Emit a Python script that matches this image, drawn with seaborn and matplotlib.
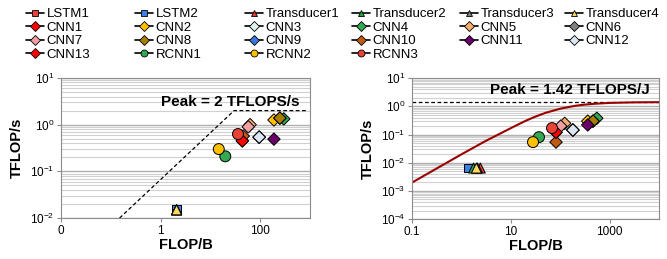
import matplotlib.pyplot as plt
import pandas as pd
import seaborn as sns
from matplotlib.lines import Line2D
from matplotlib.ticker import LogLocator, NullFormatter

# ---- data ----
models = ["LSTM1", "LSTM2", "Transducer1", "Transducer2", "Transducer3", "Transducer4",
          "CNN1", "CNN2", "CNN3", "CNN4", "CNN5", "CNN6",
          "CNN7", "CNN8", "CNN9", "CNN10", "CNN11", "CNN12",
          "CNN13", "RCNN1", "RCNN2", "RCNN3"]
markers = ["s", "s", "^", "^", "^", "^",
           "D", "D", "D", "D", "D", "D",
           "D", "D", "D", "D", "D", "D",
           "D", "o", "o", "o"]
colors = ["#E8423A", "#3C7FE6", "#E53935", "#2EA043", "#7F7F7F", "#FFD966",
          "#FF0000", "#FFC000", "#DDF3F5", "#33A852", "#F8AE6E", "#7F7F7F",
          "#F4A0A0", "#A87E00", "#3C78D8", "#C05A10", "#6B006B", "#DCE6F5",
          "#FF0000", "#34A853", "#FFC000", "#EA4335"]

# left panel: throughput
left_flop_b = [2.1, 2.1, 2.1, 2.1, 2.1, 2.1,
               44, 190, 96, 300, 63, 250,
               58, 250, 96, 46, 190, 96,
               44, 20, 14.8, 36]
left_tflops = [0.015, 0.015, 0.015, 0.015, 0.015, 0.015,
               0.45, 1.26, 0.54, 1.33, 1.0, 1.38,
               0.9, 1.38, 0.54, 0.57, 0.49, 0.54,
               0.45, 0.21, 0.30, 0.63]

# right panel: energy efficiency
right_flop_b = [1.4, 1.4, 2.4, 1.75, 2.1, 2.0,
                82, 360, 180, 550, 123, 460,
                102, 460, 180, 82, 360, 180,
                82, 37, 28, 68]
right_tflopj = [0.0065, 0.0065, 0.0065, 0.0065, 0.0065, 0.0065,
                0.12, 0.30, 0.145, 0.38, 0.25, 0.30,
                0.20, 0.30, 0.145, 0.054, 0.22, 0.145,
                0.12, 0.081, 0.054, 0.17]

# rooflines
left_roof_x = [0.15, 30, 900]
left_roof_y = [0.01, 2, 2]
right_peak_x = [0.1, 10000]
right_peak_y = [1.42, 1.42]
right_curve_x = [0.1, 0.3, 1, 3, 10, 20, 30, 50, 100, 200, 300, 500, 1000, 3000, 10000]
right_curve_y = [0.002, 0.006, 0.02, 0.058, 0.17, 0.31, 0.42, 0.59, 0.83, 1.05, 1.15,
                 1.24, 1.33, 1.39, 1.41]

marker_size = {"s": 40, "^": 52, "D": 40, "o": 62}

# ---- style ----
sns.set_theme(style="white")
plt.rcParams["font.family"] = ["Liberation Sans", "DejaVu Sans"]
plt.rcParams["mathtext.fontset"] = "custom"
plt.rcParams["mathtext.rm"] = "Liberation Sans"
plt.rcParams["mathtext.it"] = "Liberation Sans:italic"
plt.rcParams["mathtext.bf"] = "Liberation Sans:bold"
plt.rcParams["text.color"] = "black"
plt.rcParams["axes.labelcolor"] = "black"
plt.rcParams["xtick.color"] = "black"
plt.rcParams["ytick.color"] = "black"

palette = dict(zip(models, colors))
marker_map = dict(zip(models, markers))
size_map = {m: marker_size[k] for m, k in zip(models, markers)}

fig = plt.figure(figsize=(6.67, 2.59), dpi=100)
ax1 = fig.add_axes([0.0915, 0.158, 0.373, 0.541])
ax2 = fig.add_axes([0.618, 0.154, 0.370, 0.544])


def draw_panel(ax, xs, ys):
    df = pd.DataFrame({"model": models, "flop_b": xs, "perf": ys})
    sns.scatterplot(data=df, x="flop_b", y="perf", hue="model", style="model",
                    size="model", palette=palette, markers=marker_map, sizes=size_map,
                    edgecolor="black", linewidth=0.7, legend=False, ax=ax, zorder=3)
    ax.set_xscale("log")
    ax.set_yscale("log")
    ax.yaxis.set_major_locator(LogLocator(base=10))
    ax.yaxis.set_minor_locator(LogLocator(base=10, subs=range(2, 10)))
    ax.yaxis.set_minor_formatter(NullFormatter())
    ax.xaxis.set_minor_locator(plt.NullLocator())
    ax.grid(False)
    ax.yaxis.grid(True, which="major", color="#b0b0b0", lw=1.0, zorder=0)
    ax.yaxis.grid(True, which="minor", color="#d0d0d0", lw=0.8, zorder=0)
    for sp in ax.spines.values():
        sp.set_visible(True)
        sp.set_color("#8c8c8c")
        sp.set_linewidth(0.8)
    ax.tick_params(which="major", direction="out", length=3, width=0.8,
                   color="#8c8c8c", labelsize=8.5, bottom=True, left=True, pad=2)
    ax.tick_params(which="minor", length=0)
    ax.set_xlabel("FLOP/B", fontweight="bold", fontsize=10.5, labelpad=1)
    ax.set_ylabel("TFLOP/s", fontweight="bold", fontsize=10.5, labelpad=4)


draw_panel(ax1, left_flop_b, left_tflops)
ax1.plot(left_roof_x, left_roof_y, color="black", lw=0.9, ls=(0, (3, 2)), zorder=2)
ax1.set_xlim(0.01, 1000)
ax1.set_ylim(1e-2, 1e1)
ax1.set_xticks([0.01, 1, 100])
ax1.set_xticklabels(["0", "1", "100"])
ax1.text(0.96, 0.83, "Peak = 2 TFLOPS/s", transform=ax1.transAxes, ha="right",
         va="center", fontweight="bold", fontsize=11)

draw_panel(ax2, right_flop_b, right_tflopj)
ax2.plot(right_peak_x, right_peak_y, color="black", lw=0.9, ls=(0, (3, 2)), zorder=2)
ax2.plot(right_curve_x, right_curve_y, color="#9B0000", lw=1.5, zorder=2)
ax2.set_xlim(0.1, 10000)
ax2.set_ylim(1e-4, 1e1)
ax2.set_xticks([0.1, 10, 1000])
ax2.set_xticklabels(["0.1", "10", "1000"])
ax2.text(0.964, 0.915, "Peak = 1.42 TFLOPS/J", transform=ax2.transAxes, ha="right",
         va="center", fontweight="bold", fontsize=11)

# ---- legend: 6 fixed-position columns, filled row by row ----
handles = [Line2D([0], [0], color="black", lw=1.2, marker=m, markersize=5,
                  markerfacecolor=c, markeredgecolor="black", markeredgewidth=0.6)
           for m, c in zip(markers, colors)]
col_x = [26, 135, 245, 352, 460, 565]
for c, x in enumerate(col_x):
    idx = list(range(c, len(models), 6))
    fig.legend([handles[i] for i in idx], [models[i] for i in idx],
               loc="upper left", bbox_to_anchor=(x / 667, 1 - 8 / 259),
               frameon=False, fontsize=9.5, handlelength=1.4, handletextpad=0.15,
               labelspacing=0.1, borderpad=0, borderaxespad=0)

fig.savefig("out.png", dpi=100)
plt.close(fig)
